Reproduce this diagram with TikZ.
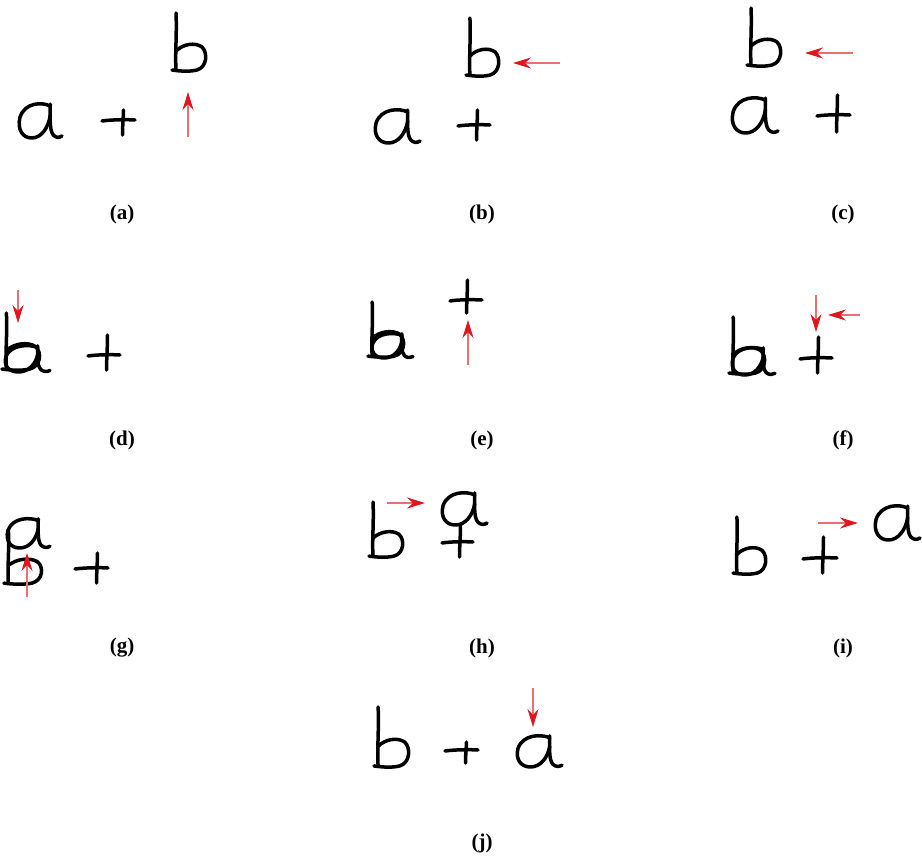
\documentclass[tikz,border=0pt]{standalone}
\usepackage{fontspec}
\setmainfont{Liberation Serif}
\usetikzlibrary{arrows.meta}
\definecolor{arrshaft}{RGB}{236,110,110}
\definecolor{arrtip}{RGB}{222,22,30}
\tikzset{
  x=1pt, y=-1pt,
  ink/.style={line width=3.5pt, line cap=round, line join=round, black},
  redarrow/.style={draw=arrshaft, line width=1.8pt,
    -{Stealth[length=18pt,width=11pt,inset=6pt,arrtip]}},
  sublabel/.style={font={\fontsize{21pt}{24pt}\selectfont\bfseries}, inner sep=0pt},
  pics/ha/.style 2 args={code={
    \begin{scope}[xscale=#1/46, yscale=#2/34]
      \draw[ink] (34,3) .. controls (26,-1) and (8,-1) .. (3,14)
                 .. controls (0,26) and (6,34) .. (15,34)
                 .. controls (25,34) and (32,24) .. (34,12);
      \draw[ink] (34,1) .. controls (34,14) and (33,26) .. (37,31)
                 .. controls (40,34) and (43,34) .. (46,32);
    \end{scope}}},
  pics/hb/.style 2 args={code={
    \begin{scope}[xscale=#1/34, yscale=#2/59]
      \draw[ink] (3,0) .. controls (4,20) and (2,40) .. (3,57);
      \draw[ink] (3,38) .. controls (10,31) and (22,29) .. (29,34)
                 .. controls (35,40) and (34,54) .. (24,57)
                 .. controls (16,59) and (6,58) .. (-1,57);
    \end{scope}}},
  pics/hp/.style n args={4}{code={
      \draw[ink] (-#1,1) .. controls (-#1/2,-0.5) and (#2/2,-0.5) .. (#2,0);
      \draw[ink] (0.5,-#3) .. controls (0.5,-#3/3) and (-0.5,#4/3) .. (-0.5,#4);
    }},
}
\begin{document}
\begin{tikzpicture}
\fill[white] (0,0) rectangle (922,860);
\useasboundingbox (0,0) rectangle (922,860);

% (a)
\pic at (17,103) {ha={45}{35}};
\pic at (123,120) {hp={21}{12}{10}{15}};
\pic at (173,13) {hb={34}{59}};
\coordinate (a1s) at (188,137); \coordinate (a1e) at (188,92);
\draw[redarrow] (a1s) -- (a1e);
\node[sublabel] (la) at (122,214) {(a)};

% (b)
\pic at (373,109) {ha={47}{34}};
\pic at (477,125) {hp={19}{13}{15}{15}};
\pic at (467,18) {hb={33}{59}};
\coordinate (b1s) at (560,63); \coordinate (b1e) at (513,63);
\draw[redarrow] (b1s) -- (b1e);
\node[sublabel] (lb) at (482,214) {(b)};

% (c)
\pic at (730,97) {ha={48}{36}};
\pic at (837,115) {hp={20}{13}{20}{17}};
\pic at (748,8) {hb={34}{59}};
\coordinate (c1s) at (853,53); \coordinate (c1e) at (805,53);
\draw[redarrow] (c1s) -- (c1e);
\node[sublabel] (lc) at (843,214) {(c)};

% (d)
\pic at (3,345) {ha={47}{27}};
\pic at (3,313) {hb={38}{58}};
\pic at (107,355) {hp={19}{13}{20}{15}};
\coordinate (d1s) at (18,290); \coordinate (d1e) at (18,323);
\draw[redarrow] (d1s) -- (d1e);
\node[sublabel] (ld) at (122,440) {(d)};

% (e)
\pic at (370,333) {ha={43}{25}};
\pic at (369,302) {hb={36}{56}};
\pic at (467,300) {hp={17}{15}{20}{13}};
\coordinate (e1s) at (468,365); \coordinate (e1e) at (468,320);
\draw[redarrow] (e1s) -- (e1e);
\node[sublabel] (le) at (482,440) {(e)};

% (f)
\pic at (730,347) {ha={45}{28}};
\pic at (730,317) {hb={36}{58}};
\pic at (818,358) {hp={18}{14}{21}{15}};
\coordinate (f1s) at (816,295); \coordinate (f1e) at (816,332);
\draw[redarrow] (f1s) -- (f1e);
\coordinate (f2s) at (860,315); \coordinate (f2e) at (828,315);
\draw[redarrow] (f2s) -- (f2e);
\node[sublabel] (lf) at (843,440) {(f)};

% (g)
\pic at (5,518) {ha={45}{30}};
\pic at (5,530) {hb={38}{55}};
\pic at (97,568) {hp={22}{11}{15}{15}};
\coordinate (g1s) at (27,597); \coordinate (g1e) at (27,553);
\draw[redarrow] (g1s) -- (g1e);
\node[sublabel] (lg) at (122,648) {(g)};

% (h)
\pic at (370,502) {hb={34}{56}};
\pic at (440,492) {ha={47}{33}};
\pic at (460,542) {hp={18}{13}{17}{15}};
\coordinate (h1s) at (387,503); \coordinate (h1e) at (425,503);
\draw[redarrow] (h1s) -- (h1e);
\node[sublabel] (lh) at (482,648) {(h)};

% (i)
\pic at (734,517) {hb={33}{58}};
\pic at (823,558) {hp={20}{14}{21}{15}};
\pic at (873,505) {ha={47}{35}};
\coordinate (i1s) at (818,523); \coordinate (i1e) at (858,523);
\draw[redarrow] (i1s) -- (i1e);
\node[sublabel] (li) at (843,648) {(i)};

% (j)
\pic at (375,707) {hb={35}{61}};
\pic at (466,750) {hp={21}{12}{8}{13}};
\pic at (515,735) {ha={47}{32}};
\coordinate (j1s) at (533,688); \coordinate (j1e) at (533,727);
\draw[redarrow] (j1s) -- (j1e);
\node[sublabel] (lj) at (482,843) {(j)};
\end{tikzpicture}
\end{document}
